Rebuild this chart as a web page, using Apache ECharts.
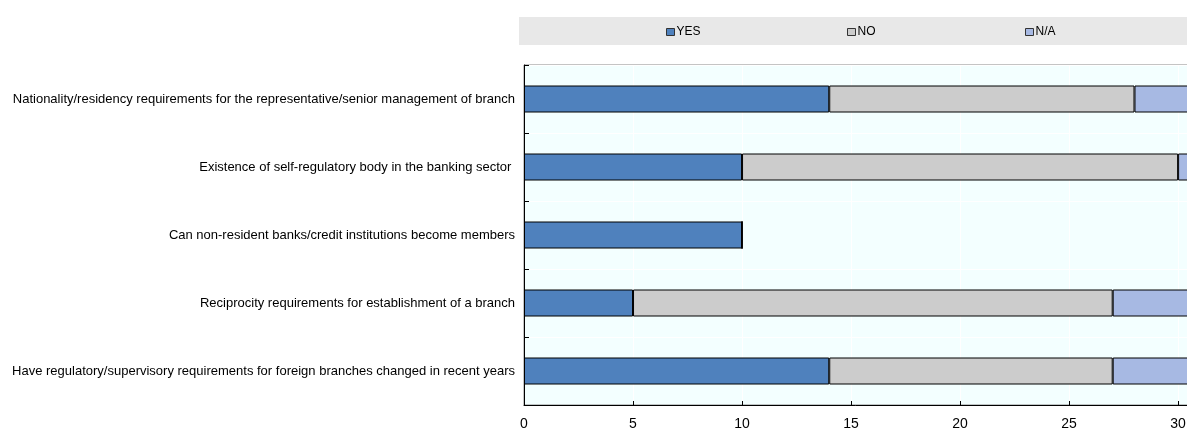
<!DOCTYPE html>
<html>
<head>
<meta charset="utf-8">
<script src="https://cdn.jsdelivr.net/npm/echarts@6/dist/echarts.min.js"></script>
<style>
html,body{margin:0;padding:0;background:#fff;}
#chart{width:1187px;height:428px;}
</style>
</head>
<body>
<div id="chart"></div>
<script>
const categories = [
  "Nationality/residency requirements for the representative/senior management of branch",
  "Existence of self-regulatory body in the banking sector ",
  "Can non-resident banks/credit institutions become members",
  "Reciprocity requirements for establishment of a branch",
  "Have regulatory/supervisory requirements for foreign branches changed in recent years"
];
const yesValues = [14, 10, 10, 5, 14];
const noValues  = [14, 20, 0, 22, 13];
const naValues  = [4, 2, 0, 5, 5];
const xTicks = [0, 5, 10, 15, 20, 25, 30];

const FONT = '"Liberation Sans", Arial, sans-serif';
const colors = { YES: '#4F81BD', NO: '#CCCCCC', 'N/A': '#A7B9E3' };

const chart = echarts.init(document.getElementById('chart'), null, { renderer: 'canvas' });

function mkLegend(name, left) {
  return {
    data: [name], left: left, top: 26, itemWidth: 8, itemHeight: 7, itemGap: 0,
    icon: 'rect', padding: 0,
    textStyle: { fontFamily: FONT, fontSize: 12, color: '#000', padding: [0, 0, 0, -3] },
    itemStyle: { borderColor: '#333', borderWidth: 1 }
  };
}

function barSeries(name, values) {
  return {
    name: name, type: 'bar', stack: 'total', data: values, barWidth: 27,
    itemStyle: { color: colors[name], borderColor: '#000', borderWidth: 1 },
    emphasis: { disabled: true }
  };
}

chart.setOption({
  animation: false,
  graphic: [{
    type: 'rect', shape: { x: 519, y: 17, width: 668, height: 28 },
    style: { fill: '#E8E8E8' }, z: -10
  }],
  legend: [mkLegend('YES', 666), mkLegend('NO', 847), mkLegend('N/A', 1025)],
  grid: {
    left: 524, right: -2, top: 65, bottom: 23,
    containLabel: false, outerBoundsMode: 'none',
    show: true, backgroundColor: '#F3FFFF', borderColor: '#888', borderWidth: 1
  },
  xAxis: {
    type: 'value', min: 0, max: 30.5, interval: 5,
    axisLine: { show: true, lineStyle: { color: '#000', width: 1 } },
    axisTick: { show: true, inside: true, length: 4, lineStyle: { color: '#000' } },
    axisLabel: {
      fontFamily: FONT, fontSize: 14, color: '#000', margin: 12,
      formatter: v => xTicks.indexOf(v) >= 0 ? String(v) : ''
    },
    splitLine: { show: true, lineStyle: { color: '#FFFFFF', width: 1 } }
  },
  yAxis: {
    type: 'category', data: categories, inverse: true,
    axisLine: { show: true, lineStyle: { color: '#000', width: 1 } },
    axisTick: { show: true, inside: true, length: 5, lineStyle: { color: '#000' } },
    axisLabel: { fontFamily: FONT, fontSize: 13, color: '#000', margin: 9 },
    splitLine: { show: true, lineStyle: { color: '#FFFFFF', width: 1 } }
  },
  series: [
    barSeries('YES', yesValues),
    barSeries('NO', noValues),
    barSeries('N/A', naValues)
  ]
});
</script>
</body>
</html>
